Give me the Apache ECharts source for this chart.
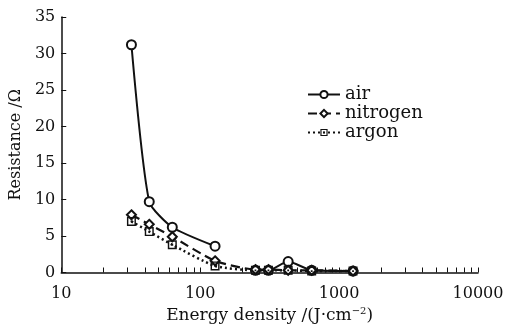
<!DOCTYPE html>
<html>
<head>
<meta charset="utf-8">
<script src="https://cdn.jsdelivr.net/npm/echarts@6/dist/echarts.min.js"></script>
<style>
  html, body { margin: 0; padding: 0; background: #fff; }
  #chart { width: 507px; height: 329px; }
</style>
</head>
<body>
<div id="chart"></div>
<script>
// energy density (J/cm^2) for each measurement
const energy = [32, 43, 63, 128, 250, 310, 430, 635, 1260]
const air = [31.2, 9.7, 6.2, 3.6, 0.3, 0.3, 1.5, 0.3, 0.2]
const nitrogen = [7.9, 6.6, 4.9, 1.6, 0.4, 0.4, 0.3, 0.3, 0.2]
const argon = [7.0, 5.6, 3.8, 0.9, 0.3, 0.3, 0.3, 0.2, 0.2]
const decades = [10, 100, 1000, 10000]
const minorSteps = [2, 3, 4, 5, 6, 7, 8, 9]

const font = '"DejaVu Serif", "Liberation Serif", serif'

const tickValues = []
decades.forEach((d, i) => {
  tickValues.push(d)
  if (i < decades.length - 1) minorSteps.forEach((m) => tickValues.push(d * m))
})

const pairs = (ys, from, to) =>
  energy.slice(from, to).map((x, i) => [x, ys[from + i]])

const squareDot = 'path://M0,0 H10 V10 H0 Z M1.6,1.6 V8.4 H8.4 V1.6 Z M4,4 H6 V6 H4 Z'

const chart = echarts.init(document.getElementById('chart'), undefined, {
  width: 507,
  height: 329,
  renderer: 'canvas',
})

const base = {
  type: 'line',
  smooth: 0.2,
  symbolSize: 9,
  itemStyle: { color: '#111', borderWidth: 1.5 },
  emphasis: { disabled: true },
}

chart.setOption({
  animation: false,
  textStyle: { fontFamily: font, color: '#111' },
  grid: { left: 61, right: 29, top: 17, bottom: 56 },
  legend: {
    data: ['air', 'nitrogen', 'argon'],
    orient: 'vertical',
    left: 302,
    top: 80,
    itemWidth: 32,
    itemHeight: 9,
    itemGap: 0,
    textStyle: { fontFamily: font, fontSize: 18, color: '#111', lineHeight: 19 },
  },
  xAxis: {
    type: 'log',
    logBase: 10,
    min: 10,
    max: 10000,
    name: '{a|Energy density /(J·cm}{s|−2}{a|)}',
    nameLocation: 'middle',
    nameGap: 34,
    nameTextStyle: {
      rich: {
        a: { fontFamily: font, fontSize: 17, color: '#111' },
        s: { fontFamily: font, fontSize: 10, color: '#111', padding: [0, 0, 8, 0] },
      },
    },
    axisLine: { lineStyle: { color: '#111', width: 1.5 } },
    axisTick: { inside: true, length: 5, customValues: tickValues, lineStyle: { color: '#111' } },
    axisLabel: {
      fontFamily: font,
      fontSize: 16,
      color: '#111',
      margin: 13,
      formatter: (v) => String(v),
    },
    splitLine: { show: false },
  },
  yAxis: {
    type: 'value',
    min: 0,
    max: 35,
    interval: 5,
    name: 'Resistance /Ω',
    nameLocation: 'middle',
    nameGap: 35,
    nameTextStyle: { fontFamily: font, fontSize: 16, color: '#111' },
    axisLine: { show: true, lineStyle: { color: '#111', width: 1.5 } },
    axisTick: { show: true, inside: true, length: 5, lineStyle: { color: '#111' } },
    axisLabel: { fontFamily: font, fontSize: 16, color: '#111', margin: 6 },
    splitLine: { show: false },
  },
  series: [
    {
      ...base,
      name: 'air',
      symbol: 'emptyCircle',
      lineStyle: { color: '#111', width: 2 },
      data: pairs(air, 0, 4),
    },
    {
      ...base,
      name: 'air',
      symbol: 'emptyCircle',
      lineStyle: { color: '#111', width: 2 },
      data: pairs(air, 4, 9),
    },
    {
      ...base,
      name: 'nitrogen',
      symbol: 'emptyDiamond',
      lineStyle: { color: '#111', width: 2.2, type: [9, 5] },
      data: pairs(nitrogen, 0, 9),
    },
    {
      ...base,
      name: 'argon',
      symbol: squareDot,
      symbolSize: 9,
      lineStyle: { color: '#111', width: 2.5, type: [2, 3] },
      data: pairs(argon, 0, 9),
    },
  ],
})
</script>
</body>
</html>
